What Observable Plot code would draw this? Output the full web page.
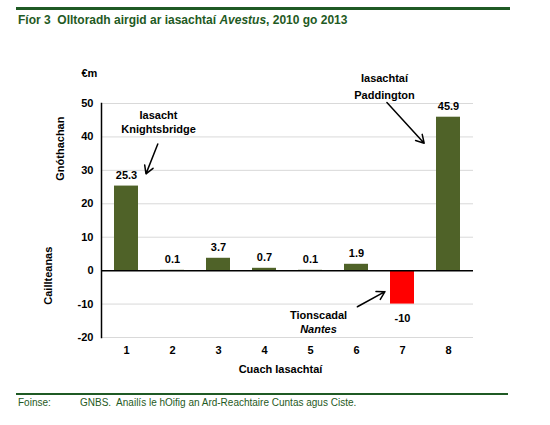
<!DOCTYPE html>
<html>
<head>
<meta charset="utf-8">
<script src="https://cdn.jsdelivr.net/npm/d3@7"></script>
<script src="https://cdn.jsdelivr.net/npm/@observablehq/plot@0.6"></script>
<style>
  body { margin: 0; background: #fff; font-family: "Liberation Sans", Arial, sans-serif; }
  #wrap { width: 550px; height: 425px; position: relative; overflow: hidden; }
  #head { position: relative; height: 36px; }
  #head .line { position: absolute; left: 16px; top: 7px; width: 494px; height: 3px; background: #1f5a24; }
  #head .title { position: absolute; left: 18px; top: 13px; font-weight: bold; font-size: 12px; color: #1f5a24; white-space: nowrap; }
  #foot { position: relative; height: 34px; }
  #foot .line { position: absolute; left: 16px; top: 2px; width: 492px; height: 2px; background: #1f5a24; }
  #foot .src { position: absolute; left: 18px; top: 6px; font-size: 10px; color: #1f5a24; white-space: nowrap; }
  #foot .src span { position: absolute; left: 62px; }
  svg { display: block; }
</style>
</head>
<body>
<div id="wrap">
  <div id="head"><div class="line"></div><div class="title">Fíor 3&nbsp; Olltoradh airgid ar iasachtaí <i>Avestus</i>, 2010 go 2013</div></div>
  <div id="chart"></div>
  <div id="foot"><div class="line"></div><div class="src">Foinse:<span>GNBS.&nbsp; Anailís le hOifig an Ard-Reachtaire Cuntas agus Ciste.</span></div></div>
</div>
<script>
// Data
const loans = ["1", "2", "3", "4", "5", "6", "7", "8"];
const values = [25.3, 0.1, 3.7, 0.7, 0.1, 1.9, -10, 45.9];
const valueLabels = ["25.3", "0.1", "3.7", "0.7", "0.1", "1.9", "-10", "45.9"];
const yTicks = [-20, -10, 0, 10, 20, 30, 40, 50];

// Annotations (in data units)
const noteTexts = ["Iasacht\nKnightsbridge", "Iasachtaí\nPaddington", "Tionscadal"];
const noteLoans = ["1", "7", "5"];
const noteY = [44.7, 55.4, -12.8];
const noteDx = [32, -18, 8];
const noteLineHeight = [1.36, 1.5, 1.45];

const arrowFrom = ["2", "6", "6"];
const arrowTo = ["1", "8", "7"];
const arrowY1 = [49.0, 60.2, -10.95];
const arrowY2 = [14.2, 30.2, -3.41];
const arrowInsetStart = [40, 45, 1];
const arrowInsetEnd = [53, 36, 20];

const data = loans.map((l, i) => ({loan: l, value: values[i], label: valueLabels[i]}));
const notes = noteTexts.map((t, i) => ({text: t, loan: noteLoans[i], y: noteY[i], dx: noteDx[i], lh: noteLineHeight[i]}));
const arrows = arrowFrom.map((a, i) => ({x1: a, x2: arrowTo[i], y1: arrowY1[i], y2: arrowY2[i], is: arrowInsetStart[i], ie: arrowInsetEnd[i]}));

const pos = data.filter(d => d.value >= 0);
const neg = data.filter(d => d.value < 0);

const font = {fontFamily: "Liberation Sans, Arial, sans-serif", fontWeight: "bold", fontSize: 11, fill: "#000"};

const marks = [
  Plot.gridY(yTicks.filter(t => t !== 0), {stroke: "#d9d9d9", strokeOpacity: 1, strokeWidth: 1}),
  Plot.barY(data, {x: "loan", y: "value", fill: d => d.value < 0 ? "#ff0000" : "#4f6228"}),
  Plot.ruleY([0], {stroke: "#000", strokeWidth: 1.5}),
  Plot.frame({anchor: "left", stroke: "#000", strokeWidth: 1.5}),
  Plot.axisY({ticks: yTicks, tickFormat: d => String(d), tickSize: 0, tickPadding: 8, label: null, ...font}),
  Plot.axisX({tickSize: 0, tickPadding: 9, label: null, ...font}),
  Plot.text(pos, {x: "loan", y: "value", text: "label", dy: -11, ...font}),
  Plot.text(neg, {x: "loan", y: "value", text: "label", dy: 14, ...font}),
  Plot.text(["€m"], {frameAnchor: "left", y: [59], dx: -20, ...font}),
  Plot.text(["Gnóthachan"], {frameAnchor: "left", y: [26.9], dx: -41, rotate: -90, ...font}),
  Plot.text(["Caillteanas"], {frameAnchor: "left", y: [-10.2], dx: -53, rotate: -90, ...font}),
  Plot.text(["Cuach Iasachtaí"], {frameAnchor: "bottom", dy: 35, dx: -7, ...font}),
  ...notes.map(n => Plot.text([n], {x: "loan", y: "y", text: "text", dx: n.dx, lineHeight: n.lh, ...font})),
  Plot.text(["Nantes"], {x: ["5"], y: [-17.6], dx: 8, ...font, fontStyle: "italic"}),
  ...arrows.map(a => Plot.arrow([a], {x1: "x1", x2: "x2", y1: "y1", y2: "y2", insetStart: a.is, insetEnd: a.ie, stroke: "#000", strokeWidth: 1.5, headLength: 9}))
];

const chart = Plot.plot({
  width: 550,
  height: 355,
  marginTop: 67,
  marginBottom: 54,
  marginLeft: 101,
  marginRight: 77,
  style: {fontFamily: "Liberation Sans, Arial, sans-serif", fontSize: "11px", background: "#fff"},
  x: {type: "band", domain: loans, paddingInner: 0.48, paddingOuter: 0.24, align: 0.5},
  y: {domain: [-20, 50]},
  marks
});
document.getElementById("chart").appendChild(chart);
</script>
</body>
</html>
